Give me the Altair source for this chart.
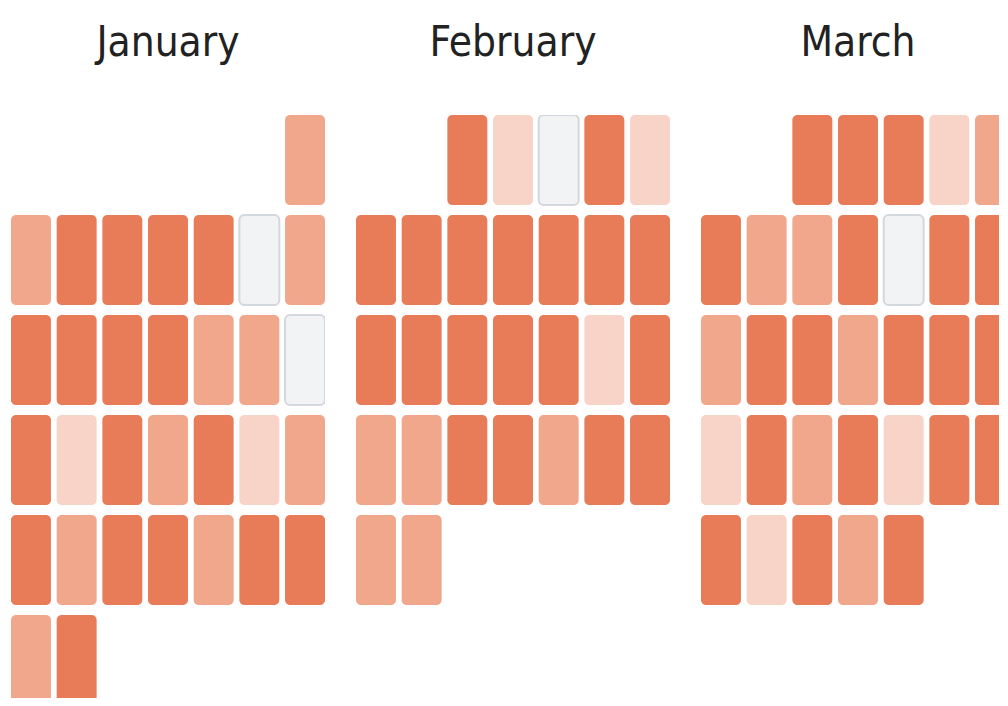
import altair as alt
import pandas as pd

year = 2022
months = ["January", "February", "March"]
# activity level per day: 0 = no data, 1 = light, 2 = medium, 3 = dark
january = [2,
           2, 3, 3, 3, 3, 0, 2,
           3, 3, 3, 3, 2, 2, 0,
           3, 1, 3, 2, 3, 1, 2,
           3, 2, 3, 3, 2, 3, 3,
           2, 3]
february = [3, 1, 0, 3, 1,
            3, 3, 3, 3, 3, 3, 3,
            3, 3, 3, 3, 3, 1, 3,
            2, 2, 3, 3, 2, 3, 3,
            2, 2]
march = [3, 3, 3, 1, 2,
         3, 2, 2, 3, 0, 3, 3,
         2, 3, 3, 2, 3, 3, 3,
         1, 3, 2, 3, 1, 3, 3,
         3, 1, 3, 2, 3]
levels = [0, 1, 2, 3]
level_colors = ["#f2f3f5", "#f8d3c7", "#f0a78c", "#e87c59"]

rows = []
for m_idx, (name, vals) in enumerate(zip(months, [january, february, march])):
    first = pd.Timestamp(year=year, month=m_idx + 1, day=1)
    offset = (first.dayofweek + 1) % 7  # Sunday-first
    for d, v in enumerate(vals):
        date = first + pd.Timedelta(days=d)
        dow = (date.dayofweek + 1) % 7
        week = (d + offset) // 7
        rows.append({"month": name, "date": date.strftime("%Y-%m-%d"),
                     "dow": dow, "week": week, "level": v})
df = pd.DataFrame(rows)

FULL_W = 314
FULL_H = 590
TITLE_FONT = "DejaVu Sans Condensed, Liberation Sans Narrow, Open Sans, sans-serif"


def month_chart(name, view_w, dx=0):
    return alt.Chart(df, title=alt.TitleParams(
        name, fontSize=42, font=TITLE_FONT, fontWeight="normal", color="#222222",
        anchor="middle", dx=dx, offset=50)
    ).transform_filter(
        alt.datum.month == name
    ).mark_rect(cornerRadius=5, stroke="#d3d7de", strokeWidth=2, clip=True).encode(
        x=alt.X("dow:O", scale=alt.Scale(domain=list(range(7)), range=[0, FULL_W],
                                         paddingInner=0.125, paddingOuter=0), axis=None),
        y=alt.Y("week:O", scale=alt.Scale(domain=list(range(6)), range=[0, FULL_H],
                                          paddingInner=0.1, paddingOuter=0), axis=None),
        color=alt.Color("level:O", scale=alt.Scale(domain=levels, range=level_colors), legend=None),
        strokeOpacity=alt.condition("datum.level == 0", alt.value(1), alt.value(0)),
    ).properties(width=view_w, height=583)


chart = alt.hconcat(
    month_chart("January", FULL_W),
    month_chart("February", FULL_W),
    month_chart("March", 298, dx=8),
    spacing=31,
).properties(
    padding={"left": 3, "top": 14, "right": 0, "bottom": 0}
).configure_view(stroke=None)

chart.save("out.html", embed_options={"renderer": "svg", "actions": False})
